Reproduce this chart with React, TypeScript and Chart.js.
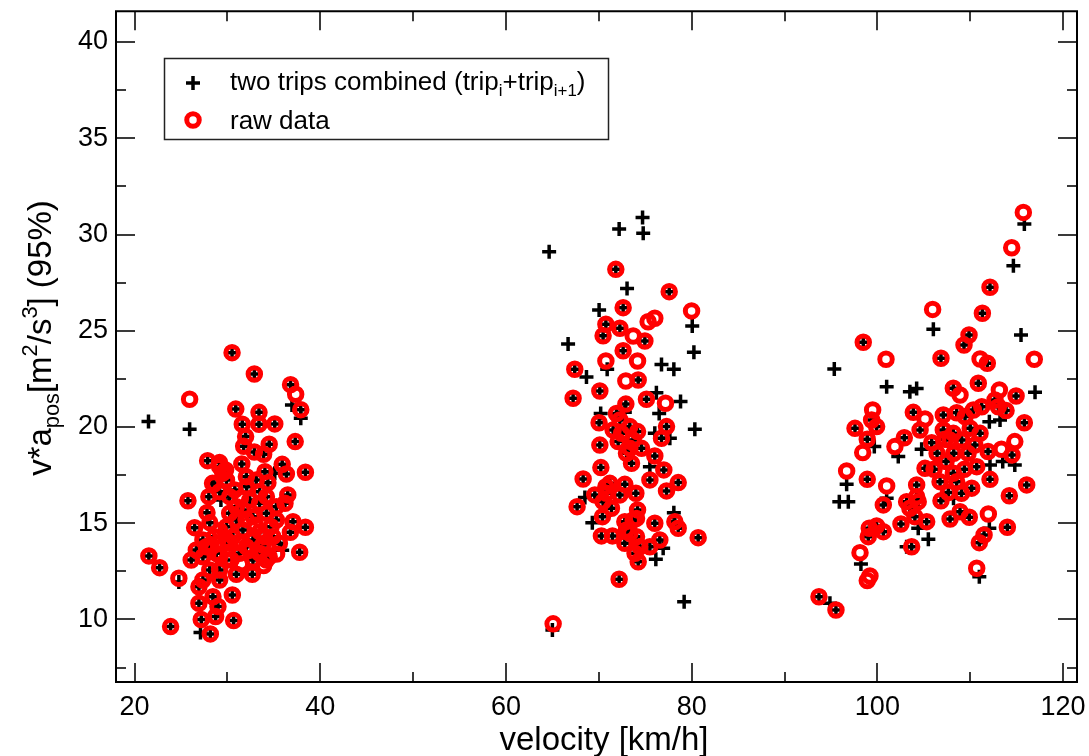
import React, { useEffect, useRef } from "react";
import { Chart, registerables } from "chart.js";

Chart.register(...registerables);

type P = [number, number];

const FONT = "'Liberation Sans', Arial, Helvetica, sans-serif";

const xTicks = [20, 40, 60, 80, 100, 120];
const xMinorTicks = [30, 50, 70, 90, 110];
const yTicks = [10, 15, 20, 25, 30, 35, 40];
const yMinorTicks = [7.5, 12.5, 17.5, 22.5, 27.5, 32.5, 37.5];

const xTitle = "velocity [km/h]";
const legendComb = "two trips combined";
const legendRaw = "raw data";

// raw data, low-speed group
const raw30: P[] = [
  [30.5, 23.86], [32.9, 22.75], [36.8, 22.2], [37.35, 21.7], [37.9, 20.9], [25.93, 21.44], [30.9, 20.93],
  [33.4, 20.76], [31.6, 20.14], [33.4, 20.14], [35.1, 20.16], [31.96, 19.5], [31.75, 19.0], [34.5, 19.1],
  [37.3, 19.24], [32.9, 18.7], [33.9, 18.58], [27.87, 18.25], [29.16, 18.15], [31.55, 18.08], [35.9, 18.06],
  [36.35, 17.56], [38.4, 17.65], [29.8, 17.77], [34.04, 17.68], [28.55, 17.04], [34.36, 17.1], [32.07, 16.9],
  [33.47, 16.64], [28.0, 16.38], [25.75, 16.17], [36.5, 16.47], [36.2, 16.04], [27.8, 15.55], [28.1, 15.03],
  [26.47, 14.77], [38.4, 14.79], [36.78, 14.53], [29.16, 14.61], [37.78, 13.49], [21.54, 13.3], [22.7, 12.69],
  [24.77, 12.14], [30.96, 12.35], [32.68, 12.35], [26.93, 11.7], [28.44, 11.18], [30.53, 11.27], [26.93, 10.84],
  [28.98, 10.67], [27.18, 10.0], [28.73, 10.15], [30.67, 9.94], [23.88, 9.63], [28.16, 9.25],
  [28.4, 17.07], [29.9, 17.25], [29.16, 16.64], [30.24, 16.38], [30.96, 15.86], [32.4, 16.2], [33.47, 16.04],
  [30.96, 15.17], [32.75, 15.34], [34.2, 15.52], [35.27, 15.17], [29.9, 14.82], [31.67, 14.65], [33.47, 14.56],
  [34.9, 14.3], [30.24, 13.96], [32.04, 13.78], [33.8, 13.87], [35.6, 13.96], [26.65, 13.61], [27.73, 13.78],
  [26.1, 13.09], [27.36, 13.26], [28.8, 13.44], [28.1, 12.57], [29.16, 12.57], [29.9, 13.09], [34.2, 13.09],
  [34.5, 13.26], [32.75, 13.09], [29.16, 12.05], [27.36, 12.05], [29.9, 14.13], [28.6, 14.3], [27.36, 14.13],
  [30.8, 16.73], [32.04, 17.42], [33.1, 17.25], [34.2, 16.38], [35.27, 15.86], [30.24, 15.52], [31.67, 15.69],
  [37.06, 15.08], [29.16, 17.94], [29.5, 17.6], [34.7, 14.82], [32.75, 14.13], [31.3, 13.44], [33.47, 13.44],
  [30.6, 14.3], [31.4, 16.3], [32.0, 15.2], [33.0, 14.9], [31.2, 14.0], [32.4, 13.6], [34.0, 14.3],
  [30.4, 13.1], [31.5, 12.9], [33.9, 12.8], [28.2, 13.9], [29.2, 13.3], [35.3, 13.4],
];

// raw data, mid-speed group
const raw75: P[] = [
  [71.83, 28.19], [77.58, 27.03], [79.99, 26.03], [72.62, 26.2], [75.31, 25.47], [76.03, 25.65], [70.76, 25.34],
  [72.27, 25.13], [70.46, 24.74], [73.7, 24.73], [74.96, 24.47], [72.62, 23.96], [70.76, 23.43], [74.17, 23.43],
  [67.41, 23.0], [72.91, 22.39], [74.24, 22.44], [70.11, 21.87], [67.23, 21.49], [75.13, 21.44], [77.18, 21.23],
  [72.91, 21.19], [70.03, 20.22], [72.27, 20.36], [77.29, 20.02], [74.17, 19.76], [76.75, 19.41], [70.11, 19.06],
  [72.08, 19.24], [72.98, 18.63], [74.6, 18.89], [73.52, 18.11], [76.03, 18.49], [70.22, 17.89], [68.31, 17.3],
  [70.76, 16.9], [72.8, 17.02], [75.5, 17.25], [77.0, 17.77], [78.55, 17.11], [69.57, 16.47], [72.27, 16.47],
  [73.99, 16.56], [77.29, 16.68], [67.66, 15.86], [70.46, 16.12], [70.39, 15.34], [71.36, 15.78], [74.17, 15.69],
  [72.8, 15.08], [76.03, 15.0], [78.19, 15.08], [78.55, 14.74], [80.7, 14.25], [70.28, 14.34], [71.47, 14.34],
  [72.8, 13.96], [74.06, 14.3], [76.57, 14.13], [75.5, 13.78], [73.9, 13.44], [74.24, 13.0], [74.06, 15.25],
  [72.98, 14.65], [72.19, 12.09], [65.08, 9.77], [73.7, 19.32], [73.34, 18.89], [72.44, 19.67], [71.54, 19.84],
  [73.34, 20.02], [71.9, 20.7], [71.19, 17.07], [70.83, 16.56], [73.7, 15.17], [73.34, 14.48], [74.42, 13.78],
];

// raw data, high-speed group
const raw105: P[] = [
  [115.72, 31.15], [114.47, 29.31], [112.13, 27.26], [111.31, 25.91], [105.95, 26.11], [109.87, 24.78],
  [109.33, 24.26], [98.48, 24.4], [100.93, 23.52], [106.85, 23.57], [111.06, 23.53], [111.84, 23.31],
  [116.9, 23.52], [110.87, 22.27], [108.18, 22.01], [108.9, 21.66], [113.14, 21.92], [114.94, 21.61],
  [112.67, 21.4], [111.24, 21.05], [113.86, 20.85], [103.87, 20.76], [107.1, 20.62], [108.54, 20.74],
  [99.49, 20.88], [99.38, 20.36], [99.92, 20.02], [97.59, 19.93], [105.13, 20.42], [104.6, 19.84],
  [107.1, 19.84], [110.0, 19.93], [111.06, 19.67], [115.83, 20.22], [102.9, 19.44], [98.91, 19.36],
  [105.85, 19.18], [107.83, 19.32], [101.89, 18.98], [98.42, 18.67], [106.43, 18.63], [108.23, 18.63],
  [109.77, 18.63], [111.92, 18.72], [113.36, 18.84], [114.5, 18.55], [114.8, 19.24], [107.4, 18.2],
  [110.5, 19.06], [96.69, 17.71], [98.91, 17.28], [105.13, 17.85], [106.1, 17.8], [109.37, 17.8],
  [110.7, 17.94], [112.13, 17.28], [106.75, 17.16], [108.54, 17.16], [110.16, 16.82], [104.23, 16.99],
  [101.0, 16.94], [116.08, 16.99], [114.21, 16.43], [109.06, 16.56], [107.64, 16.59], [104.23, 16.38],
  [106.85, 16.17], [100.64, 15.95], [103.15, 16.12], [104.4, 16.12], [103.5, 15.78], [104.04, 15.34],
  [105.31, 15.08], [107.83, 15.22], [108.9, 15.6], [109.9, 15.31], [111.95, 15.48], [114.0, 14.79],
  [102.54, 14.96], [99.13, 14.74], [99.92, 14.86], [100.64, 14.56], [99.02, 14.3], [111.49, 14.39],
  [110.98, 13.99], [103.69, 13.78], [98.13, 13.47], [99.2, 12.26], [98.91, 12.02], [110.7, 12.66],
  [93.71, 11.18], [95.54, 10.49], [113.03, 21.05], [108.18, 19.67], [109.08, 19.32], [107.28, 19.36],
  [109.44, 20.54], [110.34, 20.88], [108.18, 17.6],
];

// two trips combined, low-speed group
const comb30: P[] = [
  [21.5, 20.28], [25.93, 19.88], [37.9, 20.45], [36.95, 21.14], [27.1, 9.32], [35.9, 13.6], [35.1, 17.6],
  [29.3, 16.2], [30.5, 23.86], [32.9, 22.75], [36.8, 22.2], [37.9, 20.9], [30.9, 20.93], [33.4, 20.76],
  [31.6, 20.14], [33.4, 20.14], [35.1, 20.16], [31.96, 19.5], [31.75, 19.0], [34.5, 19.1], [37.3, 19.24],
  [32.9, 18.7], [33.9, 18.58], [27.87, 18.25], [29.16, 18.15], [31.55, 18.08], [35.9, 18.06], [36.35, 17.56],
  [38.4, 17.65], [29.8, 17.77], [34.04, 17.68], [28.55, 17.04], [34.36, 17.1], [32.07, 16.9], [33.47, 16.64],
  [28.0, 16.38], [25.75, 16.17], [36.5, 16.47], [36.2, 16.04], [27.8, 15.55], [28.1, 15.03], [26.47, 14.77],
  [38.4, 14.79], [36.78, 14.53], [29.16, 14.61], [37.78, 13.49], [21.54, 13.3], [22.7, 12.69], [24.77, 11.95],
  [30.96, 12.35], [32.68, 12.35], [26.93, 11.7], [28.44, 11.18], [30.53, 11.27], [26.93, 10.84], [28.98, 10.67],
  [27.18, 10.0], [28.73, 10.15], [30.67, 9.94], [23.88, 9.63], [28.16, 9.25], [28.4, 17.07], [29.9, 17.25],
  [29.16, 16.64], [30.24, 16.38], [30.96, 15.86], [32.4, 16.2], [33.47, 16.04], [30.96, 15.17], [32.75, 15.34],
  [34.2, 15.52], [35.27, 15.17], [29.9, 14.82], [31.67, 14.65], [33.47, 14.56], [34.9, 14.3], [30.24, 13.96],
  [32.04, 13.78], [33.8, 13.87], [35.6, 13.96], [26.65, 13.61], [27.73, 13.78], [26.1, 13.09], [27.36, 13.26],
  [28.8, 13.44], [28.1, 12.57], [29.16, 12.57], [29.9, 13.09], [34.2, 13.09], [34.5, 13.26], [32.75, 13.09],
  [29.16, 12.05], [27.36, 12.05], [29.9, 14.13], [28.6, 14.3], [27.36, 14.13], [30.8, 16.73], [32.04, 17.42],
  [33.1, 17.25], [34.2, 16.38], [35.27, 15.86], [30.24, 15.52], [31.67, 15.69], [37.06, 15.08], [29.16, 17.94],
  [29.5, 17.6], [34.7, 14.82], [32.75, 14.13], [31.3, 13.44], [33.47, 13.44], [30.6, 14.3],
];

// two trips combined, mid-speed group
const comb75: P[] = [
  [74.71, 30.89], [72.19, 30.29], [74.78, 30.06], [64.65, 29.1], [73.04, 27.2], [70.03, 26.08], [66.69, 24.31],
  [80.24, 23.88], [80.06, 25.25], [76.75, 23.24], [78.08, 23.0], [68.67, 22.6], [78.8, 21.33], [80.34, 19.88],
  [76.2, 21.78], [72.8, 20.76], [76.5, 20.7], [76.03, 19.67], [77.65, 19.41], [75.5, 17.94], [68.5, 16.33],
  [69.3, 15.03], [76.14, 13.13], [79.19, 10.92], [65.0, 9.45], [78.08, 15.55], [76.93, 13.7], [70.2, 20.7],
  [70.9, 23.0], [71.83, 28.19], [77.58, 27.03], [72.62, 26.2], [70.76, 25.34], [72.27, 25.13], [70.46, 24.74],
  [74.96, 24.47], [72.62, 23.96], [67.41, 23.0], [74.24, 22.44], [70.11, 21.87], [67.23, 21.49], [75.13, 21.44],
  [72.91, 21.19], [70.03, 20.22], [72.27, 20.36], [77.29, 20.02], [74.17, 19.76], [76.75, 19.41], [70.11, 19.06],
  [72.08, 19.24], [72.98, 18.63], [74.6, 18.89], [73.52, 18.11], [76.03, 18.49], [70.22, 17.89], [68.31, 17.3],
  [70.76, 16.9], [72.8, 17.02], [75.5, 17.25], [77.0, 17.77], [78.55, 17.11], [69.57, 16.47], [72.27, 16.47],
  [73.99, 16.56], [77.29, 16.68], [67.66, 15.86], [70.46, 16.12], [70.39, 15.34], [71.36, 15.78], [74.17, 15.69],
  [72.8, 15.08], [76.03, 15.0], [78.19, 15.08], [78.55, 14.74], [80.7, 14.25], [70.28, 14.34], [71.47, 14.34],
  [72.8, 13.96], [74.06, 14.3], [76.57, 14.13], [75.5, 13.78], [73.9, 13.44], [74.24, 13.0], [74.06, 15.25],
  [72.98, 14.65], [72.19, 12.09], [73.7, 19.32], [73.34, 18.89], [72.44, 19.67], [71.54, 19.84], [73.34, 20.02],
  [71.9, 20.7], [71.19, 17.07], [70.83, 16.56], [73.7, 15.17], [73.34, 14.48], [74.42, 13.78],
];

// two trips combined, high-speed group
const comb105: P[] = [
  [115.83, 30.55], [114.65, 28.38], [106.03, 25.08], [115.47, 24.78], [95.36, 23.01], [101.0, 22.09],
  [103.5, 21.83], [104.23, 22.0], [116.98, 21.8], [99.67, 18.98], [102.25, 18.46], [104.77, 18.84],
  [112.13, 18.03], [113.5, 18.2], [114.8, 18.03], [96.69, 17.02], [95.9, 16.12], [96.87, 16.12],
  [98.23, 12.88], [105.49, 14.17], [104.4, 14.74], [110.98, 12.22], [112.06, 14.74], [108.2, 16.3],
  [113.21, 20.36], [112.06, 20.27], [94.89, 10.84], [103.15, 13.78], [101.0, 16.3],
  [112.13, 27.26], [111.31, 25.91], [109.87, 24.78], [109.33, 24.26], [98.48, 24.4], [106.85, 23.57],
  [111.84, 23.31], [110.87, 22.27], [108.18, 22.01], [114.94, 21.61], [112.67, 21.4], [111.24, 21.05],
  [113.86, 20.85], [103.87, 20.76], [107.1, 20.62], [108.54, 20.74], [99.38, 20.36], [99.92, 20.02],
  [97.59, 19.93], [104.6, 19.84], [107.1, 19.84], [110.0, 19.93], [111.06, 19.67], [115.83, 20.22],
  [102.9, 19.44], [98.91, 19.36], [105.85, 19.18], [107.83, 19.32], [106.43, 18.63], [108.23, 18.63],
  [109.77, 18.63], [111.92, 18.72], [114.5, 18.55], [107.4, 18.2], [110.5, 19.06], [98.91, 17.28],
  [105.13, 17.85], [106.1, 17.8], [109.37, 17.8], [110.7, 17.94], [112.13, 17.28], [106.75, 17.16],
  [108.54, 17.16], [110.16, 16.82], [104.23, 16.99], [116.08, 16.99], [114.21, 16.43], [109.06, 16.56],
  [107.64, 16.59], [104.23, 16.38], [106.85, 16.17], [100.64, 15.95], [103.15, 16.12], [104.4, 16.12],
  [103.5, 15.78], [104.04, 15.34], [105.31, 15.08], [107.83, 15.22], [108.9, 15.6], [109.9, 15.31],
  [114.0, 14.79], [102.54, 14.96], [99.13, 14.74], [99.92, 14.86], [100.64, 14.56], [99.02, 14.3],
  [111.49, 14.39], [110.98, 13.99], [103.69, 13.78], [93.71, 11.18], [95.54, 10.49], [113.03, 21.05],
  [108.18, 19.67], [109.08, 19.32], [107.28, 19.36], [109.44, 20.54], [110.34, 20.88], [108.18, 17.6],
];

type Seg = { t: string; m?: "sub" | "sup" };

function segWidth(ctx: CanvasRenderingContext2D, segs: Seg[], size: number, scale: number) {
  let w = 0;
  for (const s of segs) {
    const fs = s.m ? size * scale : size;
    ctx.font = `${fs}px ${FONT}`;
    w += ctx.measureText(s.t).width;
  }
  return w;
}

function drawRich(
  ctx: CanvasRenderingContext2D,
  segs: Seg[],
  x: number,
  y: number,
  size: number,
  scale: number,
) {
  let cx = x;
  ctx.textBaseline = "alphabetic";
  ctx.textAlign = "left";
  for (const s of segs) {
    const fs = s.m ? size * scale : size;
    ctx.font = `${fs}px ${FONT}`;
    const dy = s.m === "sub" ? size * 0.24 : s.m === "sup" ? -size * 0.42 : 0;
    ctx.fillText(s.t, cx, y + dy);
    cx += ctx.measureText(s.t).width;
  }
}

const yTitleSegs: Seg[] = [
  { t: "v*a" }, { t: "pos", m: "sub" }, { t: "[m" }, { t: "2", m: "sup" }, { t: "/s" }, { t: "3", m: "sup" },
  { t: "] (95%)" },
];
const legendCombSegs: Seg[] = [
  { t: legendComb + " (trip" }, { t: "i", m: "sub" }, { t: "+trip" }, { t: "i+1", m: "sub" }, { t: ")" },
];

const decorPlugin = {
  id: "decor",
  beforeDatasetsDraw(chart: any) {
    const { ctx, chartArea: a, scales } = chart;
    const xs = scales.x;
    const ys = scales.y;
    const major = 19;
    const minor = 10;
    ctx.save();
    ctx.strokeStyle = "#3a3a3a";
    ctx.lineWidth = 2;
    ctx.beginPath();
    const vt = (v: number, len: number) => {
      const px = Math.round(xs.getPixelForValue(v));
      ctx.moveTo(px, a.bottom);
      ctx.lineTo(px, a.bottom - len);
      ctx.moveTo(px, a.top);
      ctx.lineTo(px, a.top + len);
    };
    const ht = (v: number, len: number) => {
      const py = Math.round(ys.getPixelForValue(v));
      ctx.moveTo(a.left, py);
      ctx.lineTo(a.left + len, py);
      ctx.moveTo(a.right, py);
      ctx.lineTo(a.right - len, py);
    };
    xTicks.forEach((v) => vt(v, major));
    xMinorTicks.forEach((v) => vt(v, minor));
    yTicks.forEach((v) => ht(v, major));
    yMinorTicks.forEach((v) => ht(v, minor));
    ctx.stroke();
    ctx.strokeStyle = "#000";
    ctx.lineWidth = 2;
    ctx.strokeRect(a.left, a.top, a.right - a.left, a.bottom - a.top);
    ctx.restore();
  },
  afterDatasetsDraw(chart: any) {
    const { ctx } = chart;
    ctx.save();
    ctx.fillStyle = "#000";
    // x title
    ctx.font = `33px ${FONT}`;
    ctx.textAlign = "center";
    ctx.textBaseline = "alphabetic";
    ctx.fillText(xTitle, 604, 750);
    // y title (rotated)
    const ySize = 33;
    const yScale = 0.66;
    const w = segWidth(ctx, yTitleSegs, ySize, yScale);
    ctx.save();
    ctx.translate(51, 338);
    ctx.rotate(-Math.PI / 2);
    drawRich(ctx, yTitleSegs, -w / 2, 0, ySize, yScale);
    ctx.restore();
    // legend box
    ctx.fillStyle = "#fff";
    ctx.fillRect(164, 58, 444, 81);
    ctx.strokeStyle = "#222";
    ctx.lineWidth = 1.5;
    ctx.strokeRect(164.5, 58.5, 444, 81);
    // legend symbols
    ctx.strokeStyle = "#000";
    ctx.lineWidth = 3.5;
    ctx.beginPath();
    ctx.moveTo(193 - 7, 83);
    ctx.lineTo(193 + 7, 83);
    ctx.moveTo(193, 83 - 7);
    ctx.lineTo(193, 83 + 7);
    ctx.stroke();
    ctx.strokeStyle = "#ff0000";
    ctx.lineWidth = 5;
    ctx.beginPath();
    ctx.arc(193, 120, 6.25, 0, Math.PI * 2);
    ctx.stroke();
    ctx.fillStyle = "#000";
    drawRich(ctx, legendCombSegs, 230, 90, 26, 0.65);
    ctx.font = `26px ${FONT}`;
    ctx.fillText(legendRaw, 230, 129);
    ctx.restore();
  },
};

const toXY = (arr: P[]) => arr.map(([x, y]) => ({ x, y }));

export default function App() {
  const ref = useRef<HTMLCanvasElement>(null);
  useEffect(() => {
    if (!ref.current) return;
    const chart = new Chart(ref.current, {
      type: "scatter",
      data: {
        datasets: [
          {
            label: legendRaw,
            data: toXY([...raw30, ...raw75, ...raw105]),
            pointStyle: "circle",
            pointRadius: 6.25,
            pointBorderWidth: 5,
            borderColor: "#ff0000",
            pointBorderColor: "#ff0000",
            backgroundColor: "rgba(0,0,0,0)",
            pointBackgroundColor: "rgba(0,0,0,0)",
            order: 1,
          },
          {
            label: legendComb,
            data: toXY([...comb30, ...comb75, ...comb105]),
            pointStyle: "cross",
            pointRadius: 7,
            pointBorderWidth: 3.5,
            borderColor: "#000",
            pointBorderColor: "#000",
            backgroundColor: "#000",
            order: 2,
          },
        ],
      },
      options: {
        responsive: false,
        animation: false,
        devicePixelRatio: 1,
        events: [],
        layout: { padding: { left: 0, right: 12, top: 11, bottom: 0 } },
        plugins: { legend: { display: false }, tooltip: { enabled: false } },
        scales: {
          x: {
            type: "linear",
            min: 18,
            max: 121.5,
            grid: { display: false, drawTicks: false },
            border: { display: false },
            afterBuildTicks: (s: any) => {
              s.ticks = xTicks.map((v) => ({ value: v }));
            },
            afterFit: (s: any) => {
              s.height = 74;
              s.paddingLeft = 0;
              s.paddingRight = 0;
            },
            ticks: {
              autoSkip: false,
              maxRotation: 0,
              padding: 9,
              color: "#000",
              font: { family: FONT, size: 27 },
            },
          },
          y: {
            type: "linear",
            min: 6.75,
            max: 41.6,
            grid: { display: false, drawTicks: false },
            border: { display: false },
            afterBuildTicks: (s: any) => {
              s.ticks = yTicks.map((v) => ({ value: v }));
            },
            afterFit: (s: any) => {
              s.width = 116;
              s.paddingTop = 0;
              s.paddingBottom = 0;
            },
            ticks: {
              autoSkip: false,
              padding: 8,
              color: "#000",
              font: { family: FONT, size: 27 },
            },
          },
        },
      },
      plugins: [decorPlugin],
    });
    return () => chart.destroy();
  }, []);
  return (
    <div style={{ position: "absolute", left: 0, top: 0, width: 1089, height: 756, background: "#fff" }}>
      <canvas ref={ref} width={1089} height={756} style={{ display: "block", width: 1089, height: 756 }} />
    </div>
  );
}
